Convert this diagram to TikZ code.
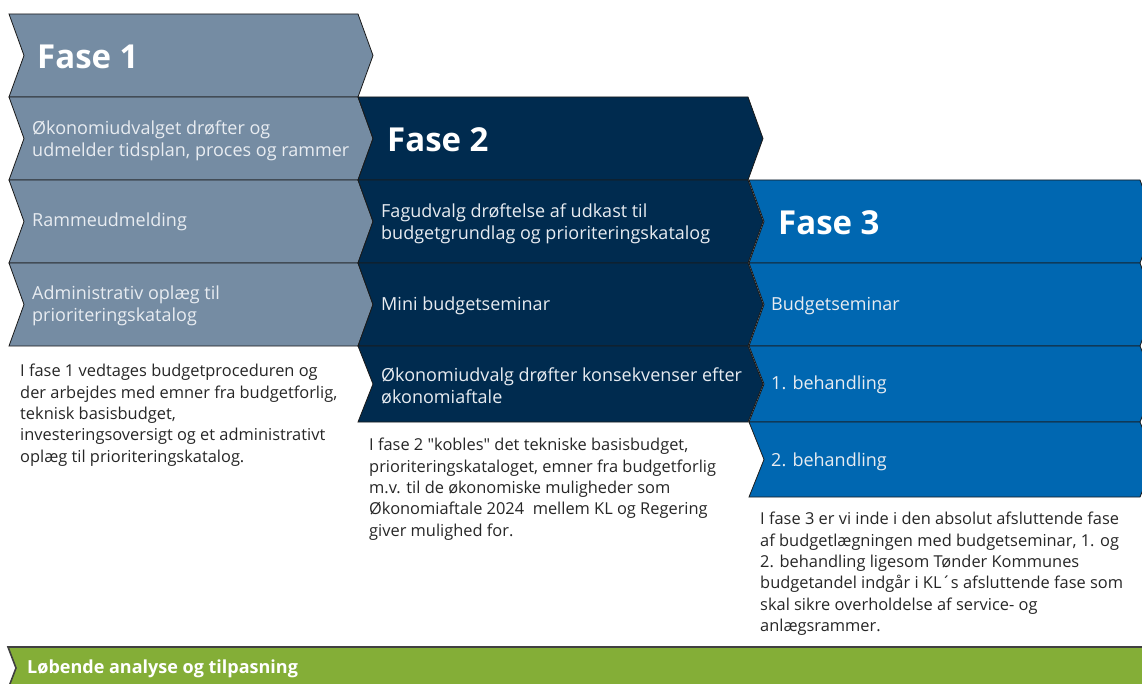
\documentclass[tikz,border=0pt]{standalone}
\usepackage{fontspec}
\setmainfont{Open Sans}[Ligatures=TeXOff]
\definecolor{faseone}{HTML}{758CA3}
\definecolor{fasetwo}{HTML}{002B4F}
\definecolor{fasethree}{HTML}{0067B1}
\definecolor{loebende}{HTML}{84AE37}
\definecolor{rowtxt}{HTML}{E8ECF1}
\definecolor{edge}{HTML}{1A1A1A}
\begin{document}
\begin{tikzpicture}[x=1pt, y=-1pt,
	chev/.style={draw=edge, line width=0.8pt, line join=miter},
	fasehead/.style={anchor=west, inner sep=0pt, text=white, font=\fontsize{33}{36}\selectfont\bfseries},
	rowlabel/.style={anchor=west, inner sep=0pt, align=left, text=rowtxt, font=\fontsize{18}{22}\selectfont},
	note/.style={anchor=north west, inner sep=0pt, align=left, text=black!85, font=\fontsize{16.4}{21.4}\selectfont}]
	\useasboundingbox (0,0) rectangle (1142,684);
	\clip (0,0) rectangle (1142,684);
	% fase 1 column
	\foreach \ya/\yb in {14/97, 97/180, 180/263, 263/346}
		\draw[chev, fill=faseone] (9,\ya) -- (358,\ya) -- (373,{(\ya+\yb)/2}) -- (358,\yb) -- (9,\yb) -- (24,{(\ya+\yb)/2}) -- cycle;
	% fase 2 column
	\foreach \ya/\yb in {97/180, 180/263, 263/346, 346/422}
		\draw[chev, fill=fasetwo] (358,\ya) -- (748,\ya) -- (763,{(\ya+\yb)/2}) -- (748,\yb) -- (358,\yb) -- (373,{(\ya+\yb)/2}) -- cycle;
	% fase 3 column, runs off the right side
	\foreach \ya/\yb in {180/263, 263/346, 346/422, 422/497}
		\draw[chev, fill=fasethree] (749,\ya) -- (1140,\ya) -- (1155,{(\ya+\yb)/2}) -- (1140,\yb) -- (749,\yb) -- (764,{(\ya+\yb)/2}) -- cycle;
	% green bar at the bottom
	\draw[draw=black!75, line width=1.6pt, fill=loebende] (8,647) -- (1160,647) -- (1160,689) -- (8,689) -- (16,668) -- cycle;

	\node[fasehead] (f1) at (37,57) {Fase 1};
	\node[rowlabel] (f1a) at (32,141) {Økonomiudvalget drøfter og\\udmelder tidsplan, proces og rammer};
	\node[rowlabel] (f1b) at (32,222) {Rammeudmelding};
	\node[rowlabel] (f1c) at (32,306) {Administrativ oplæg til\\prioriteringskatalog};

	\node[fasehead] (f2) at (387,140) {Fase 2};
	\node[rowlabel] (f2a) at (381,224) {Fagudvalg drøftelse af udkast til\\budgetgrundlag og prioriteringskatalog};
	\node[rowlabel] (f2b) at (381,306) {Mini budgetseminar};
	\node[rowlabel] (f2c) at (381,386) {Økonomiudvalg drøfter konsekvenser efter\\økonomiaftale};

	\node[fasehead] (f3) at (778,223) {Fase 3};
	\node[rowlabel] (f3a) at (771,306) {Budgetseminar};
	\node[rowlabel] (f3b) at (771,385) {1. behandling};
	\node[rowlabel] (f3c) at (771,462) {2. behandling};

	% notes under each column
	\node[note] (n1) at (20,364) {I fase 1 vedtages budgetproceduren og\\der arbejdes med emner fra budgetforlig,\\teknisk basisbudget,\\investeringsoversigt og et administrativt\\oplæg til prioriteringskatalog.};
	\node[note] (n2) at (369,438) {I fase 2 "kobles" det tekniske basisbudget,\\prioriteringskataloget, emner fra budgetforlig\\m.v. til de økonomiske muligheder som\\Økonomiaftale 2024 \ mellem KL og Regering\\giver mulighed for.};
	\node[note] (n3) at (760,512) {I fase 3 er vi inde i den absolut afsluttende fase\\af budgetlægningen med budgetseminar, 1. og\\2. behandling ligesom Tønder Kommunes\\budgetandel indgår i KL´s afsluttende fase som\\skal sikre overholdelse af service- og\\anlægsrammer.};

	\node[anchor=west, inner sep=0pt, text=white, font=\fontsize{18}{20}\selectfont\bfseries] (lb) at (27,669) {Løbende analyse og tilpasning};
\end{tikzpicture}
\end{document}
